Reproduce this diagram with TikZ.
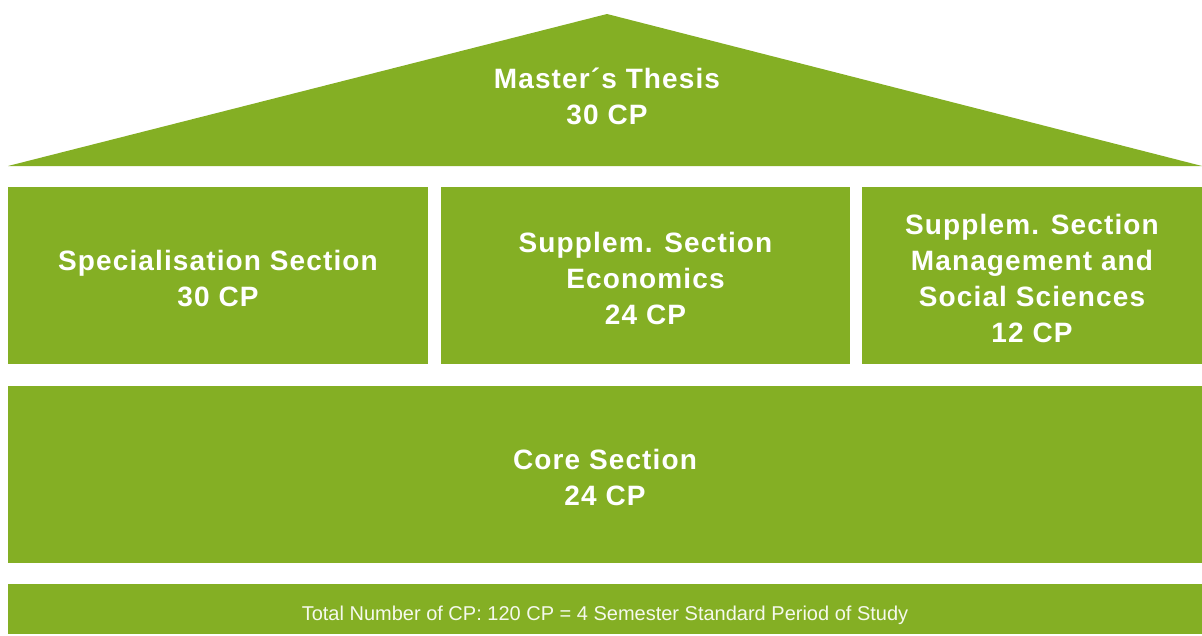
\documentclass[tikz,border=0pt]{standalone}
\usepackage{fontspec}
\setmainfont{Liberation Sans}
\usepackage{tikz}
\usetikzlibrary{positioning}
\definecolor{leaf}{RGB}{132,175,36}
\newcommand{\capstrut}{\rule{0pt}{26.5pt}}
\tikzset{x=1pt,y=-1pt,node distance=13pt}
\tikzset{part/.style={fill=leaf,text=white,inner sep=0pt,outer sep=0pt,align=center,
        minimum height=177pt,
        font=\fontsize{28}{36}\selectfont\bfseries\addfontfeatures{LetterSpace=4}}}
\tikzset{footer/.style={fill=leaf,text=white!92!leaf,inner sep=0pt,outer sep=0pt,
        text height=22pt,text depth=0pt,
        minimum width=1194pt,minimum height=50pt,font=\fontsize{20}{24}\selectfont}}

\begin{document}
\begin{tikzpicture}
    \useasboundingbox[fill=white] (0,0) rectangle (1202,635);
    % roof
    \coordinate (eaveL) at (8,166);
    \coordinate (eaveR) at (1202,166);
    \coordinate (ridge) at (607,14);
    \fill[leaf] (eaveL) -- (ridge) -- (eaveR) -- cycle;
    \node[text=white,align=center,font=\fontsize{28}{36}\selectfont\bfseries\addfontfeatures{LetterSpace=4}]
        (thesis) at (607,96) {Master´s Thesis\\30 CP};
    % walls
    \node[part,minimum width=420pt,anchor=north west] (spec) at (8,187)
        {\capstrut Specialisation Section\\30 CP};
    \node[part,minimum width=409pt,right=13pt of spec] (econ)
        {\capstrut Supplem. Section\\Economics\\24 CP};
    \node[part,minimum width=340pt,right=12pt of econ] (mgmt)
        {\capstrut Supplem. Section\\Management and\\Social Sciences\\12 CP};
    % base
    \node[part,minimum width=1194pt,below right=22pt and 0pt of spec.south west] (core)
        {\capstrut Core Section\\24 CP};
    \node[footer,below right=21pt and 0pt of core.south west] (total)
        {Total Number of CP: 120 CP = 4 Semester Standard Period of Study};
\end{tikzpicture}
\end{document}
